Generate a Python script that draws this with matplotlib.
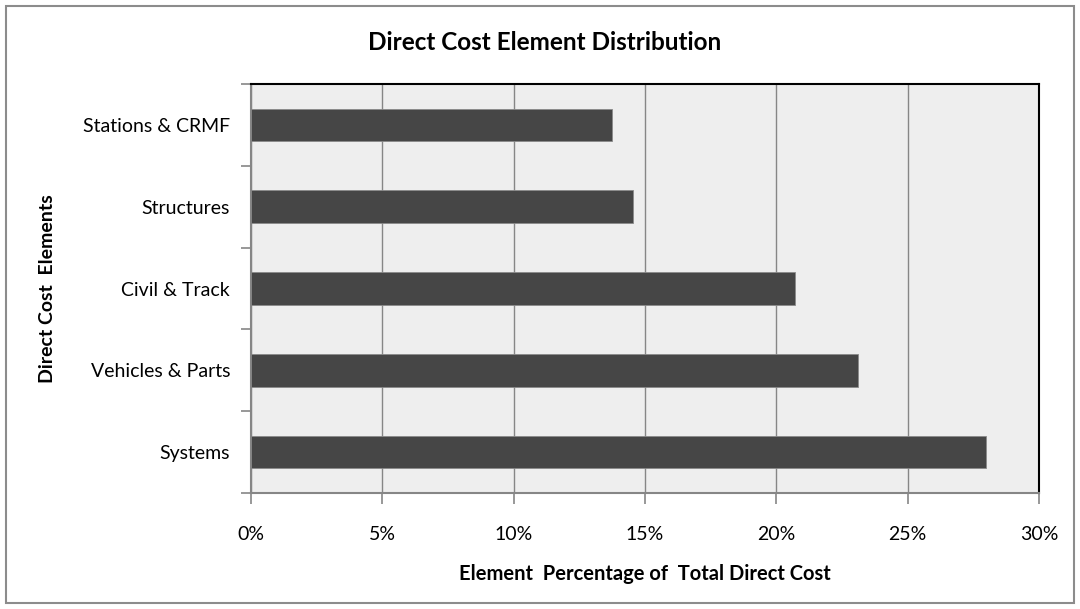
import matplotlib
matplotlib.use("Agg")
import matplotlib.pyplot as plt
from matplotlib.patches import Rectangle
import numpy as np

categories = ["Systems", "Vehicles & Parts", "Civil & Track", "Structures", "Stations & CRMF"]
values = [28.0, 23.1, 20.7, 14.55, 13.75]
xticks = [0, 5, 10, 15, 20, 25, 30]
xtick_labels = ["0%", "5%", "10%", "15%", "20%", "25%", "30%"]

plt.rcParams['font.family'] = ['Lato', 'DejaVu Sans']

fig = plt.figure(figsize=(10.8, 6.09), dpi=100)
fig.patch.set_facecolor("white")
fig.add_artist(Rectangle((6/1080, 6/609), 1068/1080, 597/609, transform=fig.transFigure,
                         fill=False, edgecolor="#8c8c8c", linewidth=1.5))

ax = fig.add_axes([251/1080, 1-493/609, (1039-251)/1080, (493-84)/609])
ax.set_facecolor("#eeeeee")
y = np.arange(len(categories))
ax.barh(y, values, height=0.40, color="#464646", edgecolor="#8a8a8a", linewidth=0.6, zorder=3)
ax.set_xlim(0, 30)
ax.set_ylim(-0.5, len(categories) - 0.5)
ax.set_xticks(xticks)
ax.set_xticklabels(xtick_labels, fontsize=14)
ax.set_yticks(y)
ax.set_yticklabels(categories, fontsize=14)
ax.tick_params(axis='y', length=0, pad=15)
ax.set_yticks(np.arange(-0.5, len(categories)), minor=True)
ax.tick_params(axis='y', which='minor', length=7, color="#868686", width=1.2, direction='out')
ax.tick_params(axis='x', length=8, color="#868686", width=1.2, direction='out', pad=16)
ax.grid(axis='x', color="#868686", linewidth=1.0, zorder=1)
ax.set_axisbelow(True)
for side in ["left", "bottom"]:
    ax.spines[side].set_color("#868686")
    ax.spines[side].set_linewidth(1.5)
for side in ["top", "right"]:
    ax.spines[side].set_color("black")
    ax.spines[side].set_linewidth(1.5)

fig.text(545/1080, 1-42/609, "Direct Cost Element Distribution", ha="center", va="center",
         fontsize=17.5, fontweight="bold")
fig.text(645/1080, 1-574/609, "Element  Percentage of  Total Direct Cost", ha="center", va="center",
         fontsize=14.5, fontweight="bold")
fig.text(48/1080, 1-289/609, "Direct Cost  Elements", ha="center", va="center", rotation=90,
         fontsize=14, fontweight="bold")

fig.savefig("out.png", dpi=100)
